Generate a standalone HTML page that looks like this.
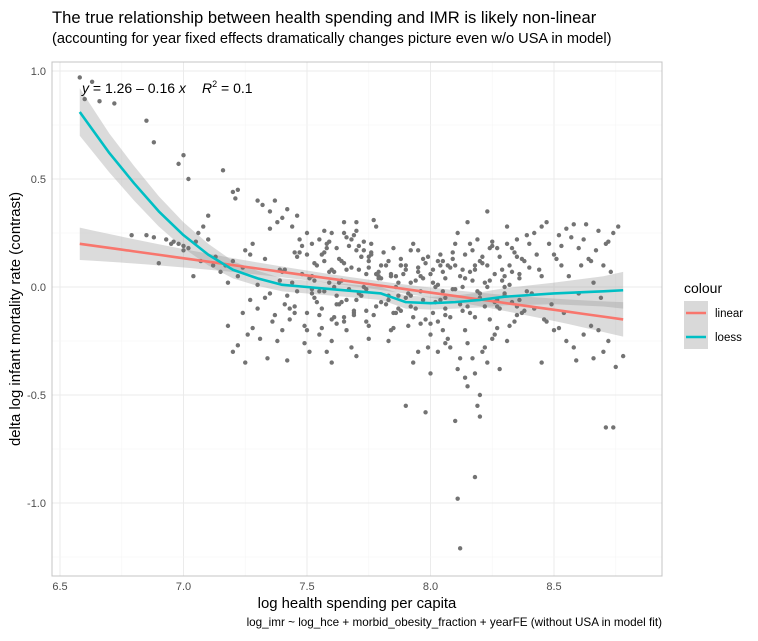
<!DOCTYPE html>
<html><head><meta charset="utf-8"><style>
body{margin:0;background:#fff;font-family:"Liberation Sans",sans-serif}
</style></head><body>
<svg id="c" width="758" height="636" xmlns="http://www.w3.org/2000/svg" font-family="Liberation Sans, sans-serif">
<text x="52" y="23" font-size="16.6" fill="#000">The true relationship between health spending and IMR is likely non-linear</text>
<text x="52" y="43" font-size="14.6" fill="#000">(accounting for year fixed effects dramatically changes picture even w/o USA in model)</text>
<rect x="52" y="62" width="610" height="514" fill="#fff"/>
<g id="grid"></g>
<g id="bands"></g>
<g id="pts"></g>
<g id="lines"></g>
<rect x="52" y="62" width="610" height="514" fill="none" stroke="#c4c4c4" stroke-width="1"/>
<g font-size="14" fill="#000">
<text x="82" y="93"><tspan font-style="italic">y</tspan> = 1.26 – 0.16 <tspan font-style="italic">x</tspan></text>
<text x="202" y="93"><tspan font-style="italic">R</tspan><tspan font-size="9" dy="-6">2</tspan><tspan dy="6"> = 0.1</tspan></text>
</g>
<g id="xt"></g><g id="yt"></g>
<text x="357" y="608" font-size="14.9" text-anchor="middle">log health spending per capita</text>
<text transform="translate(20,319) rotate(-90)" font-size="14.9" text-anchor="middle">delta log infant mortality rate (contrast)</text>
<text x="662" y="626" font-size="11.7" text-anchor="end">log_imr ~ log_hce + morbid_obesity_fraction + yearFE (without USA in model fit)</text>
<g>
<text x="684" y="293" font-size="14">colour</text>
<g><rect x="684" y="301" width="24" height="24" fill="#d9d9d9"/><line x1="686" y1="313" x2="706" y2="313" stroke="#F8766D" stroke-width="2.5"/><text x="715" y="317" font-size="11.5">linear</text></g>
<g><rect x="684" y="325" width="24" height="24" fill="#d9d9d9"/><line x1="686" y1="337" x2="706" y2="337" stroke="#00BFC4" stroke-width="2.5"/><text x="715" y="341" font-size="11.5">loess</text></g>
</g>
</svg>
<script>
const xTicks=[6.5,7.0,7.5,8.0,8.5];
const yTicks=[1.0,0.5,0.0,-0.5,-1.0];
const linX=[6.58,8.78];
const linY=[0.20,-0.15];
const linSe=[0.075,0.02,0.08];
const loessX=[6.58,6.7,6.8,6.9,7.0,7.1,7.2,7.3,7.4,7.5,7.6,7.7,7.8,7.85,7.9,8.0,8.1,8.2,8.3,8.5,8.7,8.78];
const loessY=[0.81,0.62,0.48,0.35,0.24,0.15,0.08,0.04,0.01,0.0,-0.01,-0.02,-0.03,-0.05,-0.07,-0.075,-0.07,-0.06,-0.045,-0.03,-0.02,-0.015];
const loessSe=[0.11,0.09,0.08,0.07,0.06,0.05,0.04,0.035,0.03,0.03,0.03,0.03,0.03,0.03,0.03,0.03,0.03,0.035,0.04,0.05,0.07,0.085];
const ptX=[6.58,6.6,6.63,6.66,6.72,6.85,6.88,6.98,7.0,7.02,7.16,7.2,7.22,7.21,
6.79,6.85,6.88,6.93,6.96,6.98,7.0,7.02,7.0,7.05,7.06,7.08,7.1,7.1,6.9,6.95,7.13,7.25,7.28,7.04,7.07,7.12,
7.15,7.17,7.18,7.2,7.22,7.24,7.27,7.3,7.32,7.35,7.37,7.4,7.38,7.42,7.44,7.46,7.47,7.5,7.52,7.18,7.2,7.26,7.3,7.33,7.36,7.39,7.41,7.45,7.48,
7.22,7.25,7.28,7.31,7.34,7.37,7.4,7.43,7.46,7.49,7.51,7.27,7.3,7.35,7.4,7.45,7.5,7.24,7.33,7.38,7.42,
7.52,7.54,7.56,7.58,7.6,7.62,7.64,7.66,7.68,7.7,7.72,7.74,7.76,7.78,7.8,7.53,7.57,7.61,7.65,7.69,7.73,7.77,7.79,7.55,7.59,7.63,7.67,7.71,7.75,
7.53,7.56,7.6,7.63,7.66,7.69,7.72,7.75,7.78,7.55,7.6,7.65,7.7,7.75,7.58,7.62,7.68,7.74,7.57,7.64,7.71,7.77,7.6,7.7,
7.5,7.55,7.6,7.65,7.7,7.75,7.8,7.52,7.58,7.63,7.68,7.73,7.78,7.62,7.72,7.66,7.76,
7.82,7.84,7.86,7.88,7.9,7.92,7.94,7.96,7.98,8.0,8.02,8.04,8.06,8.08,8.1,7.83,7.87,7.91,7.95,7.99,8.03,8.07,7.85,7.89,7.93,7.97,8.01,8.05,8.09,
7.82,7.86,7.9,7.94,7.98,8.02,8.06,7.84,7.88,7.92,7.96,8.0,8.04,8.08,7.83,7.91,7.99,8.07,7.87,7.95,8.03,
7.9,7.93,7.98,8.0,8.03,8.05,8.08,8.1,8.11,8.12,8.15,8.19,8.2,8.18,8.11,8.12,8.2,8.14,8.06,7.85,
8.1,8.12,8.14,8.16,8.18,8.2,8.22,8.24,8.26,8.28,8.3,8.32,8.34,8.36,8.38,8.4,8.11,8.15,8.19,8.23,8.27,8.31,8.35,8.39,8.13,8.17,8.21,8.25,8.29,8.33,8.37,
8.12,8.16,8.2,8.24,8.28,8.32,8.36,8.14,8.18,8.22,8.26,8.3,8.34,8.38,8.15,8.21,8.27,8.33,8.17,8.25,8.35,8.22,8.3,8.28,8.23,8.31,8.18,
8.42,8.45,8.48,8.5,8.52,8.55,8.58,8.6,8.62,8.65,8.68,8.7,8.72,8.74,8.76,8.43,8.47,8.53,8.57,8.63,8.67,8.71,8.44,8.51,8.56,8.61,8.66,8.73,
8.42,8.46,8.5,8.54,8.58,8.62,8.66,8.7,8.74,8.78,8.45,8.55,8.65,8.75,8.49,8.59,8.69,8.71,8.72,8.41,8.52,
7.41,7.43,7.47,7.49,7.51,7.54,7.57,7.59,7.61,7.64,7.67,7.69,7.71,7.74,7.79,7.81,7.83,7.86,7.88,7.92,7.95,7.97,8.01,8.04,8.06,8.09,8.13,8.16,8.19,8.21,8.24,8.27,8.29,8.32,8.35,
7.42,7.46,7.5,7.53,7.56,7.59,7.62,7.66,7.69,7.73,7.76,7.8,7.84,7.87,7.9,7.93,7.96,8.0,8.03,8.06,8.1,8.13,8.17,8.2,8.23,8.26,8.3,8.33,8.37,8.4,
7.44,7.48,7.52,7.57,7.61,7.65,7.7,7.74,7.79,7.83,7.88,7.92,7.97,8.01,8.05,8.09,8.14,8.18,8.23,8.27,8.31,8.36,8.39,
7.35,7.39,7.45,7.55,7.65,7.75,7.85,7.95,8.05,8.15,8.25,8.35,8.45,8.47,8.53,8.6,8.64,8.68];
const ptY=[0.97,0.87,0.95,0.86,0.85,0.77,0.67,0.57,0.61,0.5,0.54,0.44,0.45,0.41,
0.24,0.24,0.23,0.22,0.21,0.2,0.19,0.18,0.17,0.21,0.25,0.28,0.33,0.22,0.11,0.2,0.14,0.17,0.2,0.05,0.12,0.1,
0.07,0.1,0.02,0.12,0.05,0.09,0.15,0.4,0.38,0.35,0.4,0.32,0.3,0.36,0.28,0.33,0.22,0.25,0.2,-0.18,-0.3,-0.22,-0.1,-0.05,-0.16,0.03,-0.08,-0.12,0.06,
-0.27,-0.35,-0.19,-0.24,-0.33,-0.13,-0.2,-0.15,-0.02,-0.26,-0.3,-0.06,0.01,-0.03,0.07,-0.09,-0.2,-0.12,0.13,-0.25,-0.34,
0.05,0.1,0.15,0.2,0.25,0.18,0.12,0.08,0.22,0.3,0.14,0.06,0.2,0.28,0.1,0.03,0.16,0.0,0.11,0.24,0.17,0.31,0.05,-0.02,0.07,0.13,-0.01,0.19,0.09,
-0.05,-0.1,-0.15,-0.08,-0.2,-0.12,-0.04,-0.18,-0.09,-0.22,-0.25,-0.14,-0.06,-0.24,-0.3,-0.17,-0.28,-0.11,-0.02,-0.07,-0.03,-0.13,-0.35,-0.32,
0.15,0.22,0.08,0.3,0.26,0.12,0.04,-0.03,0.18,0.02,0.09,0.21,0.06,-0.04,0.14,-0.06,0.16,
0.1,0.05,0.0,0.13,0.08,0.17,0.03,-0.02,0.11,0.06,0.0,0.15,0.04,0.09,-0.01,0.12,0.02,-0.03,0.07,0.14,0.01,0.1,0.18,0.06,0.2,0.04,0.08,-0.02,0.13,
-0.08,-0.12,-0.05,-0.1,-0.15,-0.07,-0.13,-0.2,-0.11,-0.09,-0.17,-0.22,-0.06,-0.14,-0.25,-0.18,-0.28,-0.24,-0.04,-0.3,-0.16,
-0.55,-0.35,-0.58,-0.4,-0.3,-0.2,-0.28,-0.62,-0.38,-0.33,-0.46,-0.55,-0.5,-0.88,-0.98,-1.21,-0.6,-0.42,-0.26,-0.19,
0.1,0.05,0.15,0.2,0.08,0.12,0.02,0.18,0.06,0.14,0.0,0.1,0.16,0.04,0.12,0.2,0.25,0.3,0.22,0.35,0.18,0.28,0.14,0.24,0.08,0.17,0.11,0.19,0.03,0.07,0.13,
-0.08,-0.12,-0.05,-0.15,-0.1,-0.18,-0.06,-0.2,-0.14,-0.09,-0.22,-0.03,-0.16,-0.11,-0.26,-0.3,-0.19,-0.07,-0.33,-0.24,-0.13,-0.28,-0.04,-0.38,-0.35,-0.25,-0.4,
0.25,0.28,0.2,0.15,0.24,0.27,0.29,0.18,0.22,0.12,0.26,0.1,0.21,0.25,0.28,0.15,0.3,0.19,0.23,0.29,0.17,0.2,0.08,0.13,0.05,0.1,0.02,0.07,
-0.1,-0.15,-0.2,-0.12,-0.28,-0.22,-0.33,-0.3,-0.65,-0.32,-0.35,-0.25,-0.18,-0.37,-0.08,-0.34,-0.05,-0.65,-0.25,-0.03,-0.19,
0.08,-0.1,0.16,-0.18,0.04,-0.07,0.12,0.21,-0.14,0.03,0.19,-0.11,0.08,-0.16,0.04,0.16,-0.04,0.05,0.1,-0.04,0.09,-0.06,0.02,0.1,-0.1,0.16,0.0,0.07,-0.02,0.14,0.03,-0.06,0.08,0.01,-0.09,
-0.04,0.14,-0.12,0.11,-0.19,0.02,-0.08,0.23,-0.13,0.0,0.15,-0.07,0.06,-0.1,0.1,-0.14,0.05,-0.17,0.12,-0.05,0.2,-0.11,0.03,-0.03,0.1,-0.07,0.05,0.18,-0.12,0.09,
0.02,0.19,-0.01,0.26,0.07,-0.16,0.17,-0.01,0.07,-0.06,0.1,0.02,0.13,-0.12,0.07,-0.01,0.04,0.1,0.0,-0.09,0.2,0.06,-0.02,
0.27,0.08,0.16,-0.13,0.25,0.14,-0.12,0.17,0.12,-0.09,0.21,0.22,0.05,-0.16,0.1,-0.03,0.13,-0.2];

const X=v=>60+(v-6.5)*247, Y=v=>287-v*216;
const NS='http://www.w3.org/2000/svg';
function mk(tag,attrs,parent){const e=document.createElementNS(NS,tag);for(const k in attrs)e.setAttribute(k,attrs[k]);document.getElementById(parent).appendChild(e);return e;}
for(let v=6.5;v<=8.76;v+=0.25){const major=Math.abs(v*2-Math.round(v*2))<1e-6;const g=mk('line',{x1:X(v),x2:X(v),y1:62,y2:576,stroke:major?'#ebebeb':'#f5f5f5','stroke-width':major?1:0.6},'grid');

}
for(let v=-1.25;v<=1.01;v+=0.25){const major=Math.abs(v*2-Math.round(v*2))<1e-6;const g=mk('line',{x1:52,x2:662,y1:Y(v),y2:Y(v),stroke:major?'#ebebeb':'#f5f5f5','stroke-width':major?1:0.6},'grid');

}
xTicks.forEach(v=>{const t=mk('text',{x:X(v),y:590,'font-size':11,'text-anchor':'middle',fill:'#4d4d4d'},'xt');t.textContent=v.toFixed(1);

});
yTicks.forEach(v=>{const t=mk('text',{x:46,y:Y(v)+4,'font-size':11,'text-anchor':'end',fill:'#4d4d4d'},'yt');t.textContent=v.toFixed(1);

});
const lin=x=>linY[0]+(x-linX[0])*(linY[1]-linY[0])/(linX[1]-linX[0]);
const N=40;let up=[],lo=[],mid=[];
for(let i=0;i<=N;i++){const x=linX[0]+(linX[1]-linX[0])*i/N;const t=(x-7.75)/(x<7.75?(7.75-6.58):(8.78-7.75));const se=linSe[1]+(x<7.75?(linSe[0]-linSe[1]):(linSe[2]-linSe[1]))*t*t;
up.push(X(x)+','+Y(lin(x)+se));lo.unshift(X(x)+','+Y(lin(x)-se));mid.push(X(x)+','+Y(lin(x)));}
const lb=mk('polygon',{points:up.concat(lo).join(' '),fill:'#999','fill-opacity':0.35},'bands');


let u2=[],l2=[],m2=[];
loessX.forEach((x,i)=>{u2.push(X(x)+','+Y(loessY[i]+loessSe[i]));l2.unshift(X(x)+','+Y(loessY[i]-loessSe[i]));m2.push(X(x)+','+Y(loessY[i]));});
const ob=mk('polygon',{points:u2.concat(l2).join(' '),fill:'#999','fill-opacity':0.35},'bands');


ptX.forEach((x,i)=>{const c=mk('circle',{cx:X(x),cy:Y(ptY[i]),r:2.2,fill:'#737373'},'pts');

});
const ll=mk('polyline',{points:mid.join(' '),fill:'none',stroke:'#F8766D','stroke-width':2.6},'lines');


const lo2=mk('polyline',{points:m2.join(' '),fill:'none',stroke:'#00BFC4','stroke-width':2.6,'stroke-linejoin':'round'},'lines');


</script>
</body></html>
